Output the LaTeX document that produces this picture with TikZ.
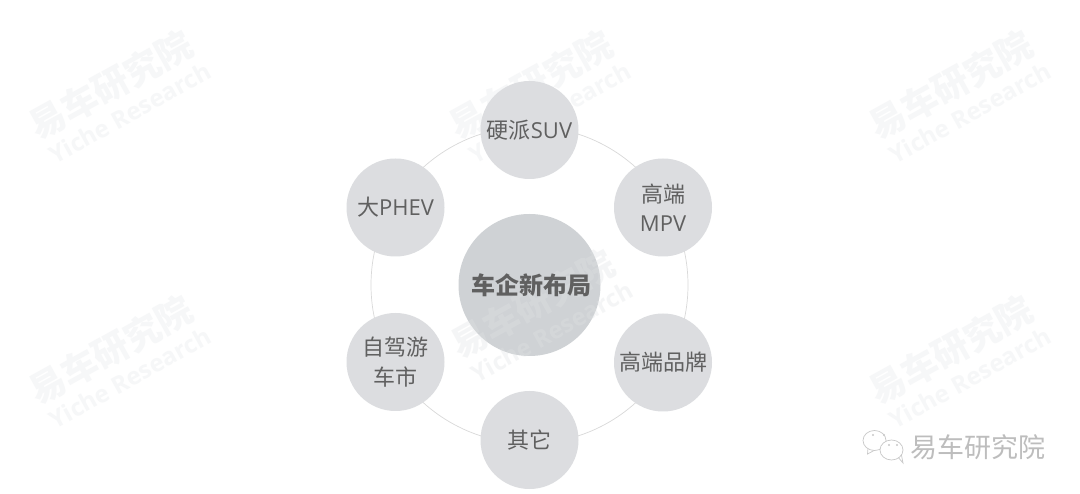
\documentclass[tikz,border=0pt]{standalone}
\usepackage{fontspec}
\setmainfont{Open Sans}
\newfontfamily\cjk{Noto Sans CJK SC}
\usetikzlibrary{calc}
\definecolor{ringcol}{HTML}{D9D9D9}
\definecolor{smallc}{HTML}{DCDDE0}
\definecolor{bigc}{HTML}{CFD2D5}
\definecolor{txtc}{HTML}{606060}
\definecolor{wmc}{HTML}{F6F7F8}
\definecolor{wmalpha}{HTML}{E0E2E4}
\definecolor{brand}{HTML}{BDBDBD}
\definecolor{logoline}{HTML}{C8C8C8}
\tikzset{
  sat/.style={circle,fill=smallc,minimum size=98pt,inner sep=0pt,text=txtc,align=center,font=\fontsize{22}{29.5}\selectfont},
  hub/.style={circle,fill=bigc,minimum size=142pt,inner sep=0pt},
  wmcn/.style={rotate=29,font=\cjk\bfseries\fontsize{36}{38}\selectfont,inner sep=0pt},
  wmen/.style={rotate=29,font=\bfseries\fontsize{24}{26}\selectfont,inner sep=0pt},
  bubble/.style={draw=logoline,fill=white,line width=0.7pt},
  eye/.style={fill=logoline,circle,inner sep=0pt,minimum size=2.2pt}
}
\newcommand{\wmark}[3]{%
  \node[wmcn,#3] (#1a) at (#2) {易车研究院};
  \node[wmen,#3] (#1b) at ($(#2)+(19,28)$) {Yiche Research};
}
\begin{document}
\begin{tikzpicture}[x=1pt,y=-1pt]
\useasboundingbox (0,0) rectangle (1080,494);
\fill[white] (0,0) rectangle (1080,494);
% watermarks under the nodes
\wmark{wa}{111,85}{text=wmc}
\wmark{wb}{531,85}{text=wmc}
\wmark{wc}{951,85}{text=wmc}
\wmark{wd}{111,350}{text=wmc}
\wmark{wf}{951,350}{text=wmc}
% ring and nodes
\coordinate (ringcentre) at (529.5,285);
\draw[ringcol,line width=0.7pt] (ringcentre) circle[radius=158.5];
\node[sat] (n1) at (529.5,130) {{\cjk 硬派}SUV};
\node[sat] (n2) at (663,207.5) {{\cjk 高端}\\MPV};
\node[sat] (n3) at (663,362.5) {\cjk 高端品牌};
\node[sat] (n4) at (529.5,440) {\cjk 其它};
\node[sat] (n5) at (395.5,362) {\cjk 自驾游\\\cjk 车市};
\node[sat] (n6) at (395.5,207.5) {{\cjk 大}PHEV};
\node[hub] (hub) at (ringcentre) {};
% watermark that lies over the central disc
\wmark{we}{533,304}{text=wmalpha,text opacity=0.33}
\node[text=txtc,font=\cjk\bfseries\fontsize{24}{30}\selectfont] (hubt) at (531,285) {车企新布局};
% brand logo
\draw[bubble] (868,448) -- (867.5,454) -- (875,450) -- cycle;
\draw[bubble] (874.5,440.5) circle[x radius=11.5,y radius=10];
\draw[bubble] (897,456) -- (903,463) -- (901,453) -- cycle;
\draw[bubble] (891.5,450) circle[x radius=11.5,y radius=10];
\node[eye] (e1) at (873,435) {};
\node[eye] (e2) at (884,435) {};
\node[eye] (e3) at (889,445) {};
\node[eye] (e4) at (897,445) {};
\node[text=brand,font=\cjk\fontsize{27}{30}\selectfont,inner sep=0pt] (brandt) at (978,447) {易车研究院};
\end{tikzpicture}
\end{document}
